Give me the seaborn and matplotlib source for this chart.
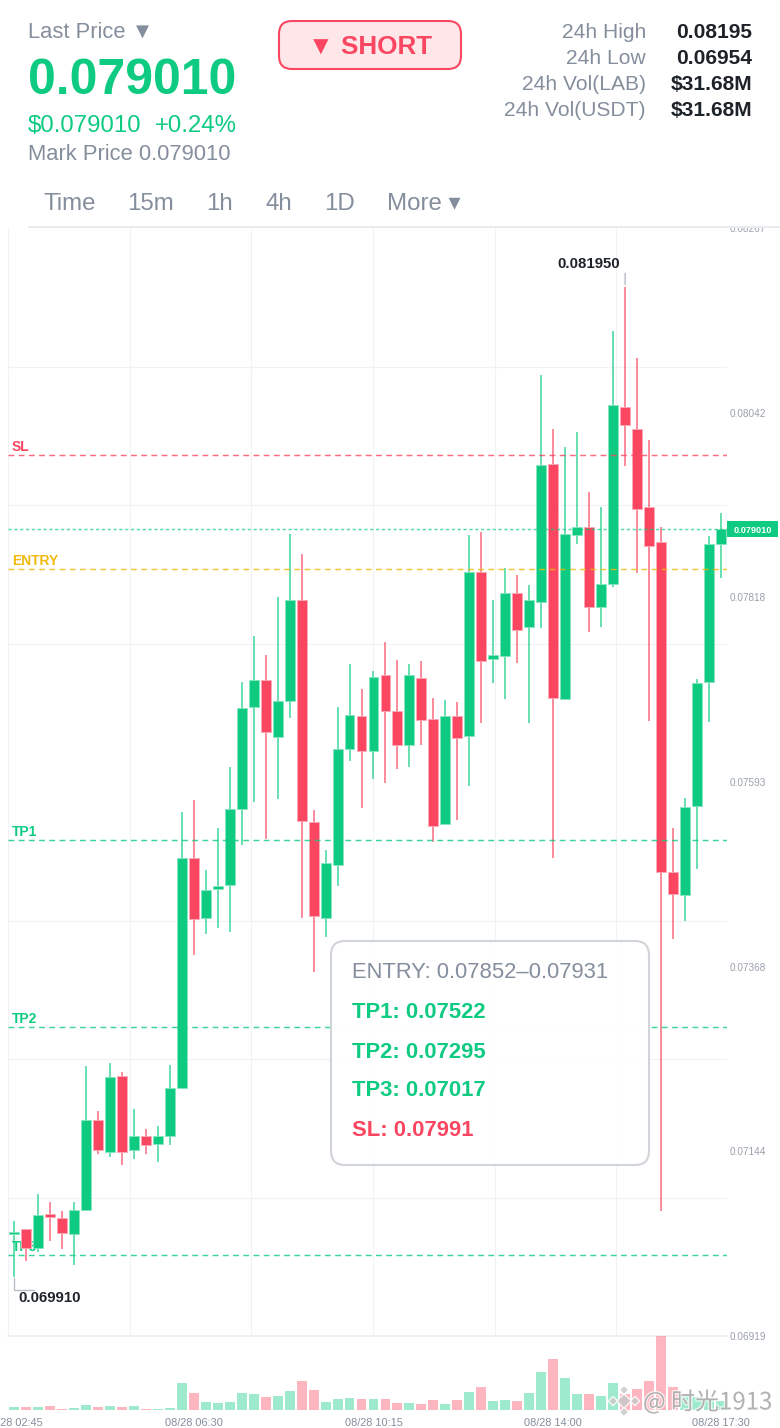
import numpy as np
import pandas as pd
import matplotlib
matplotlib.use('Agg')
import matplotlib.pyplot as plt
import matplotlib.patheffects as pe
from matplotlib.patches import FancyBboxPatch, Rectangle
import seaborn as sns

sns.set_theme(style='white')
plt.rcParams['font.family'] = ['Liberation Sans', 'DejaVu Sans']
plt.rcParams['axes.unicode_minus'] = False

# candles
open_px = [.070431, .070492, .070261, .070674, .070626, .070431, .070723, .071818, .071429, .072353,
           .071453, .071623, .071526, .071623, .072207, .075005, .074275, .074628, .074677, .075601,
           .076842, .077171, .076477, .076915, .078144, .075443, .074275, .074920, .076331, .076733,
           .076307, .077232, .076794, .076380, .077195, .076696, .075419, .076733, .076490, .078485,
           .077426, .077463, .078229, .077816, .078120, .079799, .076940, .078935, .079032, .078059,
           .078339, .080492, .080225, .079276, .078850, .074835, .074555, .075638, .077147, .078825]
close_px = [.070455, .070261, .070662, .070638, .070443, .070723, .071818, .071453, .072341, .071429,
            .071623, .071514, .071623, .072207, .075005, .074263, .074616, .074665, .075601, .076830,
            .077171, .076538, .076915, .078144, .075455, .074300, .074945, .076331, .076745, .076307,
            .077207, .076794, .076380, .077232, .076684, .075395, .076733, .076465, .078485, .077402,
            .077475, .078229, .077779, .078144, .079787, .076952, .078947, .079032, .078059, .078339,
            .080517, .080273, .079251, .078801, .074835, .074567, .075626, .077134, .078825, .079008]
high_px = [.070589, .070492, .070918, .070820, .070711, .070820, .072475, .071927, .072511, .072402,
           .071952, .071708, .071745, .072487, .075565, .075711, .074859, .075370, .076112, .077147,
           .077706, .077475, .078181, .078947, .078704, .075589, .075103, .076842, .077366, .077061,
           .077280, .077633, .077414, .077366, .077402, .076952, .076928, .076903, .078935, .078971,
           .078144, .078533, .078448, .078327, .080882, .080225, .080006, .080188, .079458, .079276,
           .081417, .081950, .081088, .080091, .079032, .075370, .075735, .077183, .078923, .079203]
low_px = [.069910, .070102, .070212, .070346, .070248, .070054, .070711, .071404, .071368, .071270,
          .071343, .071404, .071307, .071514, .072195, .073825, .074081, .074154, .074105, .075164,
          .075687, .075237, .075723, .076709, .074275, .073618, .074044, .074665, .076185, .075614,
          .075966, .075918, .076088, .076112, .076380, .075200, .075419, .075468, .075881, .076648,
          .077134, .076940, .077378, .076648, .077804, .075005, .076940, .078825, .077755, .077816,
          .078302, .079774, .078473, .076672, .070711, .074020, .074239, .074872, .076660, .078412]
volume = [3.3, 3, 3.3, 3.7, 1.3, 2, 5, 3, 3.7, 3, 4, 1.3, 1, 2, 26.7, 17, 8, 6.7, 8, 17,
          16, 13.3, 14, 19, 29, 20, 8.3, 11, 11.7, 10.7, 11.3, 11, 7, 7, 6, 10.3, 6, 9.7, 18, 23,
          9, 10.3, 9, 16.7, 38, 51, 32, 16, 16.3, 14.3, 27.3, 16, 20.7, 28.7, 74, 22.7, 15, 13, 12, 9.3]

price_ticks = [0.08267, 0.08042, 0.07818, 0.07593, 0.07368, 0.07144, 0.06919]
time_ticks = [0, 15, 30, 45, 59]
time_labels = ['08/28 02:45', '08/28 06:30', '08/28 10:15', '08/28 14:00', '08/28 17:30']
levels = {'SL': 0.07991, 'ENTRY': 0.07852, 'TP1': 0.07522, 'TP2': 0.07295, 'TP3': 0.07017}
last_price = 0.07901

GREEN = '#0ECB81'
RED = '#FA4660'
YELLOW = '#F0B90B'
GREY = '#848E9C'
DARK = '#1E2329'
GRID = '#F1F2F4'
PX = 0.72  # one pixel in points at dpi 100

df = pd.DataFrame({'i': np.arange(len(open_px)), 'open': open_px, 'close': close_px,
                   'high': high_px, 'low': low_px, 'vol': volume})
df['side'] = np.where(df['close'] >= df['open'], 'up', 'down')
df['base'] = df[['open', 'close']].min(axis=1)
df['size'] = (df['open'] - df['close']).abs()
colors = {'up': GREEN, 'down': RED}
edges = {'up': '#86E5C0', 'down': '#FCA9B4'}

fig = plt.figure(figsize=(7.8, 14.28), dpi=100, facecolor='white')
W, H = 780, 1428
ax = fig.add_axes([8 / W, 1 - 1336 / H, 719 / W, 1108 / H])
vol_ax = fig.add_axes([8 / W, 1 - 1410 / H, 719 / W, 74 / H], sharex=ax)

# wicks
wicks = df.melt(id_vars=['i', 'side'], value_vars=['high', 'low'], value_name='price')
wicks = wicks.sort_values(['i', 'price'])
sns.lineplot(data=wicks, x='i', y='price', units='i', estimator=None, hue='side', palette=colors,
             legend=False, linewidth=1.1, alpha=0.8, solid_capstyle='butt', zorder=2.5, ax=ax)

# bodies and volume
for side, sub in df.groupby('side'):
    sns.barplot(data=sub, x='i', y='size', bottom=sub['base'].values, native_scale=True, color=colors[side],
                saturation=1, width=0.83, errorbar=None, edgecolor=edges[side], linewidth=0.6,
                zorder=3, ax=ax)
    sns.barplot(data=sub, x='i', y='vol', native_scale=True, color=colors[side], saturation=1, width=0.83,
                errorbar=None, alpha=0.4, linewidth=0, ax=vol_ax)

ax.set_xlim(-0.5, 59.5)
ax.set_ylim(price_ticks[-1], price_ticks[0])
vol_ax.set_ylim(0, max(volume))

ax.set_xlabel('')
ax.set_ylabel('')
vol_ax.set_xlabel('')
vol_ax.set_ylabel('')
for a in (ax, vol_ax):
    sns.despine(ax=a, left=True, bottom=True, right=True, top=True)
ax.spines['bottom'].set_visible(True)
ax.spines['bottom'].set_color('#F0F1F3')
ax.spines['bottom'].set_linewidth(1.4)

# grid: 8 rows and cells of 121.67 px, unrelated to the labelled ticks
ax.yaxis.tick_right()
ax.set_yticks(price_ticks)
ax.set_yticklabels([f'{p:.5f}' for p in price_ticks])
ax.set_yticks(np.linspace(price_ticks[-1], price_ticks[0], 9), minor=True)
ax.set_xticks(-0.5 + np.arange(6) * 121.67 / (719 / 60), minor=True)
ax.grid(False, which='major')
ax.grid(True, which='minor', color=GRID, linewidth=0.75)
ax.set_axisbelow(True)
ax.tick_params(axis='y', which='major', length=0, pad=3 * PX, labelsize=7.2, labelcolor='#9AA1AC')
ax.tick_params(axis='both', which='minor', length=0)
ax.tick_params(axis='x', which='major', length=0, labelbottom=False)
vol_ax.set_xticks(time_ticks)
vol_ax.set_xticklabels(time_labels)
vol_ax.set_yticks([])
vol_ax.tick_params(axis='x', length=0, pad=8 * PX, labelsize=7.9, labelcolor=GREY)
ax.patch.set_alpha(0)
vol_ax.patch.set_alpha(0)

# levels
level_colors = {'SL': RED, 'ENTRY': YELLOW, 'TP1': GREEN, 'TP2': GREEN, 'TP3': GREEN}
for name, value in levels.items():
    ax.axhline(value, color=level_colors[name], lw=1.05, ls=(0, (4, 3)), alpha=0.8, zorder=4)
    ax.annotate(name, xy=(-0.5, value), xytext=(4 * PX, 8 * PX), textcoords='offset points', va='center',
                ha='left', color=level_colors[name], fontsize=10, fontweight='bold', zorder=1)
ax.axhline(last_price, color=GREEN, lw=1.05, ls=(0, (2.2, 1.8)), alpha=0.7, zorder=4)

# high and low marks
top = df.loc[df['high'].idxmax()]
ax.annotate('0.081950', xy=(top['i'], top['high']), xytext=(-5 * PX, 23 * PX), textcoords='offset points',
            ha='right', va='center', fontsize=10.8, fontweight='bold', color=DARK)
ax.annotate('', xy=(top['i'], top['high']), xytext=(0, 14 * PX), textcoords='offset points',
            arrowprops=dict(arrowstyle='-', color='#B7BDC6', lw=1, shrinkA=0, shrinkB=2))
bot = df.loc[df['low'].idxmin()]
ax.annotate('0.069910', xy=(bot['i'], bot['low']), xytext=(4 * PX, -21 * PX), textcoords='offset points',
            ha='left', va='center', fontsize=10.8, fontweight='bold', color=DARK)
ax.annotate('', xy=(bot['i'], bot['low']), xytext=(20 * PX, -13 * PX), textcoords='offset points',
            arrowprops=dict(arrowstyle='-', color='#B7BDC6', lw=1, shrinkA=0, shrinkB=1,
                            connectionstyle='angle,angleA=0,angleB=90,rad=0'))

# overlay in picture pixels for the app chrome
ui = fig.add_axes([0, 0, 1, 1], facecolor='none')
ui.set_xlim(0, W)
ui.set_ylim(H, 0)
ui.axis('off')
ui.add_patch(Rectangle((0, 0), W, 226, fc='white', ec='none'))
ui.add_patch(Rectangle((28, 226), W - 28, 2, fc='#E9EBEE', ec='none'))


def label(x, y, s, size, color=GREY, weight='normal', ha='left'):
    ui.text(x, y, s, fontsize=size * PX, color=color, fontweight=weight, ha=ha, va='center_baseline')


label(28, 30, 'Last Price ▼', 22)
label(28, 76, '0.079010', 50, GREEN, 'bold')
label(28, 124, '$0.079010', 24, GREEN)
label(155, 124, '+0.24%', 24, GREEN)
label(28, 152, 'Mark Price 0.079010', 22)

ui.add_patch(FancyBboxPatch((279, 21), 182, 48, boxstyle='round,pad=0,rounding_size=13',
                            fc='#FFE6E9', ec=RED, lw=1.5))
label(370, 44, '▼ SHORT', 26, RED, 'bold', ha='center')

stat_names = ['24h High', '24h Low', '24h Vol(LAB)', '24h Vol(USDT)']
stat_values = ['0.08195', '0.06954', '$31.68M', '$31.68M']
for k, (n, v) in enumerate(zip(stat_names, stat_values)):
    label(646, 31 + 26 * k, n, 21, ha='right')
    label(752, 31 + 26 * k, v, 21, DARK, 'bold', ha='right')

for x, s in zip([44, 127, 206, 265, 324, 387], ['Time', '15m', '1h', '4h', '1D', 'More ▾']):
    label(x, 202, s, 24)

# price badge
ui.add_patch(Rectangle((727, 521), 51, 16, fc=GREEN, ec='none'))
label(752.5, 529.5, '0.079010', 9.2, 'white', 'bold', ha='center')

# signal box
ui.add_patch(FancyBboxPatch((331, 941), 318, 224, boxstyle='round,pad=0,rounding_size=14',
                            fc='white', ec='#CFD3D8', lw=1.5, alpha=0.98))
label(352, 970, 'ENTRY: 0.07852–0.07931', 22)
label(352, 1010, 'TP1: 0.07522', 22, GREEN, 'bold')
label(352, 1050, 'TP2: 0.07295', 22, GREEN, 'bold')
label(352, 1088, 'TP3: 0.07017', 22, GREEN, 'bold')
label(352, 1128, 'SL: 0.07991', 22, RED, 'bold')

# watermark
ui.text(643, 1402, '@ 时光1913', fontsize=24 * PX, color='#8F8F8F', alpha=0.6, ha='left', va='center',
        family=['Noto Sans CJK SC', 'DejaVu Sans'],
        path_effects=[pe.withStroke(linewidth=2, foreground='white', alpha=0.7)])
ui.scatter([624, 613, 635, 624, 624], [1401, 1401, 1401, 1390, 1412], marker='D', s=[55, 22, 22, 22, 22],
           color='#C9C9C9', edgecolors='white', linewidths=1, alpha=0.85)

fig.savefig('out.png', dpi=100)
